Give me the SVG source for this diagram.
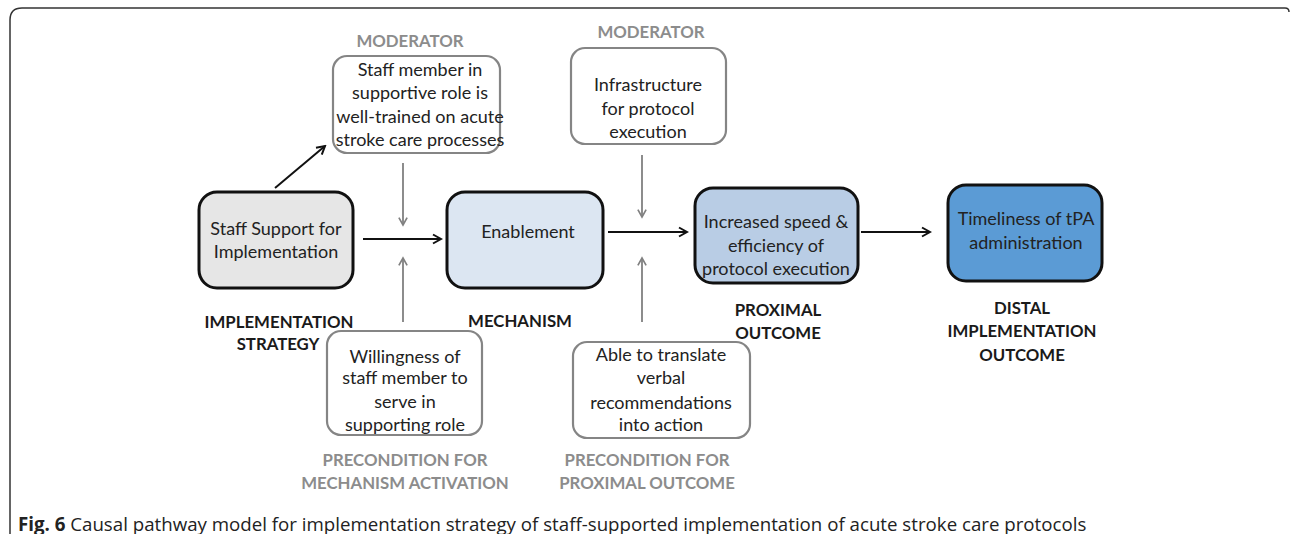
<svg xmlns="http://www.w3.org/2000/svg" width="1290" height="534" viewBox="0 0 1290 534">
<defs>
<marker id="ah" viewBox="0 0 12 12" refX="10" refY="6" markerWidth="12" markerHeight="12" markerUnits="userSpaceOnUse" orient="auto">
<path d="M2,1.5 L10,6 L2,10.5" fill="none" stroke="#111" stroke-width="2"/>
</marker>
<marker id="ahg" viewBox="0 0 12 12" refX="10" refY="6" markerWidth="11" markerHeight="11" markerUnits="userSpaceOnUse" orient="auto">
<path d="M2,1.5 L10,6 L2,10.5" fill="none" stroke="#808080" stroke-width="1.8"/>
</marker>
</defs>
<style>
.t{font-family:Lato,"Liberation Sans",sans-serif;font-size:18px;fill:#222;text-anchor:middle}
.lb{font-family:Lato,"Liberation Sans",sans-serif;font-size:16.8px;font-weight:bold;fill:#1a1a1a;text-anchor:middle}
.lg{font-family:Lato,"Liberation Sans",sans-serif;font-size:16.8px;font-weight:bold;fill:#8c8c8c;text-anchor:middle}
.main{stroke:#111;stroke-width:3}
.mod{fill:#fff;stroke:#858585;stroke-width:2.2}
.c{font-family:"Open Sans","Liberation Sans",sans-serif;font-size:18.7px;fill:#222}
.k{stroke:#111;stroke-width:2;fill:none}
.g{stroke:#808080;stroke-width:1.8;fill:none}
</style>
<rect width="1290" height="534" fill="#fff"/>
<path d="M10,534 L10,20 Q10,8 22,8 L1285,8 Q1289,8 1289,12" fill="none" stroke="#333" stroke-width="1.5"/>

<g id="connectors">
<line class="k" x1="275" y1="188" x2="325" y2="146" marker-end="url(#ah)"/>
<line class="k" x1="363" y1="239" x2="441" y2="239" marker-end="url(#ah)"/>
<line class="k" x1="608" y1="232" x2="687" y2="232" marker-end="url(#ah)"/>
<line class="k" x1="861" y1="232" x2="930" y2="232" marker-end="url(#ah)"/>
<line class="g" x1="403" y1="163" x2="403" y2="225" marker-end="url(#ahg)"/>
<line class="g" x1="403" y1="322" x2="403" y2="258" marker-end="url(#ahg)"/>
<line class="g" x1="642" y1="155" x2="642" y2="217" marker-end="url(#ahg)"/>
<line class="g" x1="642" y1="322" x2="642" y2="258" marker-end="url(#ahg)"/>
</g>

<g id="moderator1">
<text class="lg" x="410" y="47">MODERATOR</text>
<rect class="mod" x="333" y="56" width="167" height="97" rx="14"/>
<text class="t" x="420" y="76">Staff member in</text>
<text class="t" x="420" y="99">supportive role is</text>
<text class="t" x="420" y="123">well-trained on acute</text>
<text class="t" x="420" y="146">stroke care processes</text>
</g>

<g id="moderator2">
<text class="lg" x="651" y="38">MODERATOR</text>
<rect class="mod" x="571" y="48" width="155" height="96" rx="14"/>
<text class="t" x="648" y="91">Infrastructure</text>
<text class="t" x="648" y="115">for protocol</text>
<text class="t" x="648" y="138">execution</text>
</g>

<g id="strategy">
<rect class="main" x="199" y="192" width="154" height="96" rx="18" fill="#e6e6e6"/>
<text class="t" x="276" y="235">Staff Support for</text>
<text class="t" x="276" y="258">Implementation</text>
<text class="lb" x="279" y="328">IMPLEMENTATION</text>
<text class="lb" x="278" y="350">STRATEGY</text>
</g>

<g id="mechanism">
<rect class="main" x="447" y="192" width="156" height="96" rx="18" fill="#dce6f2"/>
<text class="t" x="528" y="238">Enablement</text>
<text class="lb" x="520" y="327">MECHANISM</text>
</g>

<g id="proximal">
<rect class="main" x="695" y="188" width="163" height="95" rx="18" fill="#b9cde5"/>
<text class="t" x="776" y="228">Increased speed &amp;</text>
<text class="t" x="776" y="252">efficiency of</text>
<text class="t" x="776" y="275">protocol execution</text>
<text class="lb" x="778" y="316">PROXIMAL</text>
<text class="lb" x="778" y="339">OUTCOME</text>
</g>

<g id="distal">
<rect class="main" x="948" y="185" width="154" height="96" rx="18" fill="#5b9bd5"/>
<text class="t" x="1026" y="225">Timeliness of tPA</text>
<text class="t" x="1026" y="249">administration</text>
<text class="lb" x="1022" y="314">DISTAL</text>
<text class="lb" x="1022" y="337">IMPLEMENTATION</text>
<text class="lb" x="1022" y="361">OUTCOME</text>
</g>

<g id="precondition1">
<rect class="mod" x="327" y="331" width="155" height="104" rx="14"/>
<text class="t" x="405" y="363">Willingness of</text>
<text class="t" x="405" y="384">staff member to</text>
<text class="t" x="405" y="408">serve in</text>
<text class="t" x="405" y="431">supporting role</text>
<text class="lg" x="405" y="466">PRECONDITION FOR</text>
<text class="lg" x="405" y="489">MECHANISM ACTIVATION</text>
</g>

<g id="precondition2">
<rect class="mod" x="573" y="342" width="177" height="96" rx="14"/>
<text class="t" x="661" y="361">Able to translate</text>
<text class="t" x="661" y="384">verbal</text>
<text class="t" x="661" y="409">recommendations</text>
<text class="t" x="661" y="431">into action</text>
<text class="lg" x="647" y="466">PRECONDITION FOR</text>
<text class="lg" x="647" y="489">PROXIMAL OUTCOME</text>
</g>

<text class="c" x="18" y="531"><tspan font-weight="bold">Fig. 6</tspan> Causal pathway model for implementation strategy of staff-supported implementation of acute stroke care protocols</text>
</svg>
